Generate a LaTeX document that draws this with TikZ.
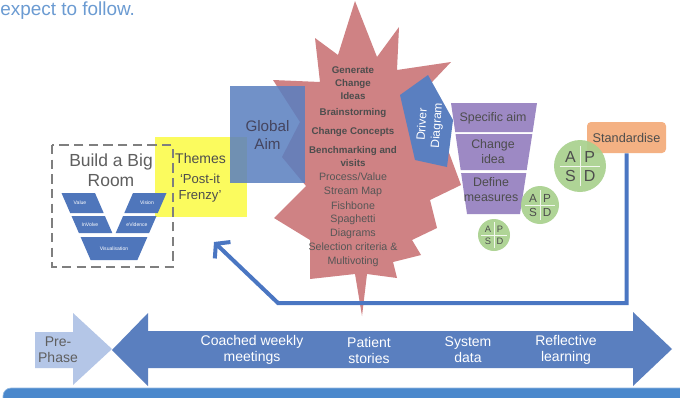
\documentclass[tikz,border=0pt]{standalone}
\usepackage{fontspec}
\setmainfont{Liberation Sans}
\usetikzlibrary{arrows.meta}
\definecolor{titleblue}{HTML}{6B9BD2}
\definecolor{starpink}{HTML}{CF8284}
\definecolor{gblue}{HTML}{5A7FC0}
\definecolor{themey}{HTML}{FBFB5E}
\definecolor{vblue}{HTML}{4F76BB}
\definecolor{purp}{HTML}{9D89C4}
\definecolor{pgreen}{HTML}{A9D18E}
\definecolor{stdorange}{HTML}{F4B183}
\definecolor{fbblue}{HTML}{4A76C2}
\definecolor{arrblue}{HTML}{5A7FBF}
\definecolor{prelight}{HTML}{B4C6E7}
\definecolor{barblue}{HTML}{4A88CC}
\definecolor{txtgrey}{HTML}{4D4D4D}
\definecolor{startgrey}{HTML}{565656}
\definecolor{dashgrey}{HTML}{7F7F7F}
\tikzset{
  lbl/.style={inner sep=0, align=center, text=txtgrey},
  startxt/.style={lbl, text=startgrey, font=\fontsize{8}{10.5}\selectfont},
  starbold/.style={lbl, text=txtgrey, font=\bfseries\fontsize{7.3}{9.75}\selectfont},
  vtxt/.style={inner sep=0, text=white, font=\fontsize{3.8}{4}\selectfont},
  funtxt/.style={lbl, text=txtgrey, font=\fontsize{9.3}{11.25}\selectfont},
  bartxt/.style={inner sep=0, align=center, text=white, font=\fontsize{10.5}{12}\selectfont},
  pdsacirc/.style={circle, fill=pgreen, fill opacity=0.92, inner sep=0},
  pdsaline/.style={draw=white!85!pgreen, line width=0.6pt},
  pdsatext/.style={inner sep=0, text=txtgrey},
  fbline/.style={draw=fbblue, line width=3pt, line join=miter},
}
\newcommand\drawpdsa[5]{%
  \node[pdsacirc, minimum size={#4*1.5pt}] (#1) at (#2,#3) {};
  \draw[pdsaline, shorten <={#4*0.17pt}, shorten >={#4*0.17pt}] (#1.west) -- (#1.east);
  \draw[pdsaline, shorten <={#4*0.17pt}, shorten >={#4*0.17pt}] (#1.north) -- (#1.south);
  \node[pdsatext, font=\fontsize{#5}{#5}\selectfont] (#1a) at (#2-0.37*#4,#3-0.36*#4) {A};
  \node[pdsatext, font=\fontsize{#5}{#5}\selectfont] (#1p) at (#2+0.37*#4,#3-0.36*#4) {P};
  \node[pdsatext, font=\fontsize{#5}{#5}\selectfont] (#1s) at (#2-0.37*#4,#3+0.38*#4) {S};
  \node[pdsatext, font=\fontsize{#5}{#5}\selectfont] (#1d) at (#2+0.37*#4,#3+0.38*#4) {D};
}
\begin{document}
\begin{tikzpicture}[x=0.75pt,y=-0.75pt]
\useasboundingbox (0,0) rectangle (680,397);
\fill[white] (0,0) rectangle (680,397);

% title
\node[anchor=base west, inner sep=0, text=titleblue, font=\fontsize{14.2}{16}\selectfont] (title) at (0,15) {expect to follow.};

% themes box
\node[fill=themey, minimum width=69pt, minimum height=60pt, inner sep=0] (themesbox) at (201,177) {};
\node[lbl, font=\fontsize{10.5}{12}\selectfont] (themes) at (200.5,158) {Themes};
\node[lbl, font=\fontsize{9.8}{12}\selectfont] (postit) at (200,188) {‘Post-it\\Frenzy’};

% build a big room
\draw[draw=dashgrey, line width=1.5pt, dash pattern=on 7pt off 4pt] (52,145) rectangle (173,267);
\node[lbl, text=txtgrey!90, font=\fontsize{13.1}{15}\selectfont] (room) at (111,170) {Build a Big\\Room};
\fill[vblue] (61.5,193) -- (95,193) -- (103.7,213) -- (70.2,213) -- cycle;
\fill[vblue] (133,193) -- (166.5,193) -- (157.8,213) -- (124.3,213) -- cycle;
\fill[vblue] (71.5,216) -- (104.9,216) -- (112.3,233) -- (78.9,233) -- cycle;
\fill[vblue] (123.1,216) -- (156.5,216) -- (149.1,233) -- (115.7,233) -- cycle;
\fill[vblue] (80.6,237) -- (147.4,237) -- (137.4,260) -- (90.6,260) -- cycle;
\node[vtxt] (vvalue) at (80,203) {Value};
\node[vtxt] (vvision) at (147,203) {Vision};
\node[vtxt] (vinvolve) at (90,225) {InVolve};
\node[vtxt] (vevidence) at (137,225) {eVidence};
\node[vtxt] (vvisual) at (114,249) {Visualisation};

% star
\fill[starpink] (355,1) -- (377,57) -- (399,27) -- (397,70) -- (451,62) -- (415,100)
  -- (448,150) -- (461,185) -- (430,200) -- (437,228) -- (412,240) -- (421,255)
  -- (393,262) -- (397,278) -- (367,274) -- (362,316) -- (355,274) -- (310,279)
  -- (310,240) -- (274,218) -- (306,186) -- (282,157) -- (300,122) -- (273,80)
  -- (320,82) -- (315,38) -- (338,55) -- cycle;
\node[starbold] (gen) at (353,83) {Generate\\Change\\Ideas};
\node[starbold] (brain) at (353,113) {Brainstorming};
\node[starbold] (conc) at (353,132) {Change Concepts};
\node[starbold] (bench) at (353,156.5) {Benchmarking and\\visits};
\node[startxt] (proc) at (353,185) {Process/Value\\Stream Map};
\node[startxt] (fish) at (353,206) {Fishbone};
\node[startxt] (spag) at (353,227) {Spaghetti\\Diagrams};
\node[startxt] (sel) at (353,254.5) {Selection criteria \&\\Multivoting};

% global aim
\node[fill=gblue, fill opacity=0.86, text opacity=1, minimum width=56.25pt, minimum height=72.75pt,
  inner sep=0, align=center, text=txtgrey!90!blue, font=\fontsize{11.4}{13.5}\selectfont] (gaim) at (267.5,134.5) {Global\\Aim};

% driver diagram arrow
\fill[gblue] (400,95) -- (428,75) -- (453,120) -- (447,167) -- (415,160) -- cycle;
\node[inner sep=0, align=center, text=white, rotate=86, font=\fontsize{9}{11}\selectfont] (drv) at (430,125) {Driver\\Diagram};

% funnel
\fill[purp] (451,103) -- (537,103) -- (532.6,132) -- (455.2,132) -- cycle;
\fill[purp] (455.5,134) -- (532.3,134) -- (526.7,170) -- (460.7,170) -- cycle;
\fill[purp] (461.1,173) -- (526.3,173) -- (520,214) -- (467,214) -- cycle;
\node[funtxt] (spec) at (493,118) {Specific aim};
\node[funtxt] (chg) at (493,152) {Change\\idea};
\node[funtxt] (def) at (491,190) {Define\\measures};

% standardise
\node[fill=stdorange, rounded corners=3pt, minimum width=59.25pt, minimum height=23.25pt, inner sep=0,
  text=txtgrey, font=\fontsize{9.5}{11}\selectfont] (std) at (626.5,137.5) {Standardise};

% PDSA circles
\drawpdsa{pbig}{580}{166}{26}{12}
\drawpdsa{pmid}{540}{205}{19}{8.8}
\drawpdsa{psmall}{494}{235}{16}{7}

% feedback arrow
\coordinate (fbcorner) at (278,303);
\coordinate (fbtip) at (214,242);
\draw[fbline, -{Straight Barb[length=7pt,width=17pt]}] (std.south) |- (fbcorner) -- (fbtip);

% bottom arrows
\fill[prelight] (35,332) -- (73,332) -- (73,313) -- (112,349) -- (73,385) -- (73,368) -- (35,368) -- cycle;
\fill[arrblue] (112,350) -- (148,313) -- (148,331) -- (633,331) -- (633,312) -- (672,349)
  -- (633,386) -- (633,368) -- (148,368) -- (148,386) -- cycle;
\node[bartxt, text=txtgrey!90] (pre) at (58,350) {Pre-\\Phase};
\node[bartxt] (coach) at (252,350) {Coached weekly\\meetings};
\node[bartxt] (patient) at (369,350) {Patient\\stories};
\node[bartxt] (system) at (468,350) {System\\data};
\node[bartxt] (reflect) at (566,350) {Reflective\\learning};

% bottom bar
\fill[barblue, rounded corners=6pt, draw=barblue!60!white, line width=0.5pt] (3,406) rectangle (690,388);
\end{tikzpicture}
\end{document}
